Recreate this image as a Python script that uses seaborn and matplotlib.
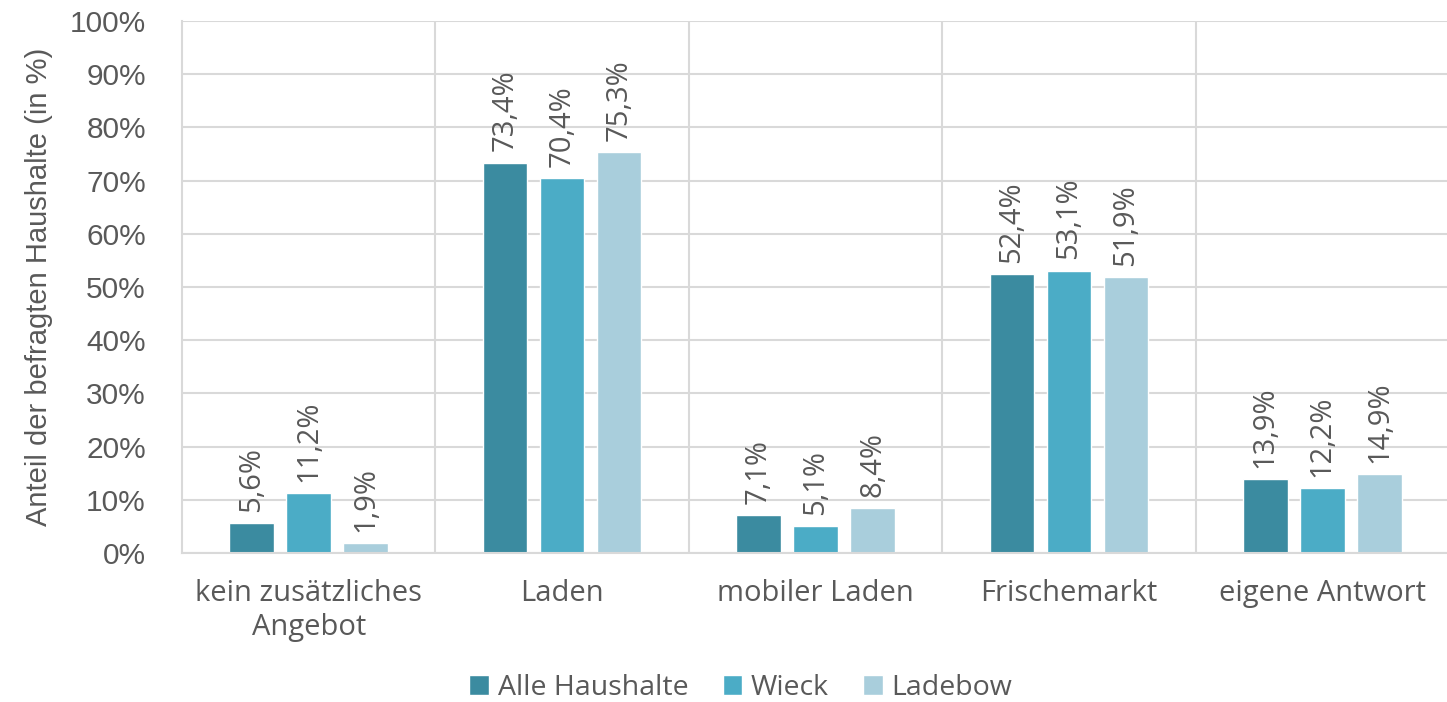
import numpy as np
import pandas as pd
import matplotlib
matplotlib.use('Agg')
import matplotlib.pyplot as plt
import seaborn as sns

kategorien = ['kein zusätzliches\nAngebot', 'Laden', 'mobiler Laden', 'Frischemarkt', 'eigene Antwort']
gruppen = ['Alle Haushalte', 'Wieck', 'Ladebow']
alle = [5.6, 73.4, 7.1, 52.4, 13.9]
wieck = [11.2, 70.4, 5.1, 53.1, 12.2]
ladebow = [1.9, 75.3, 8.4, 51.9, 14.9]
farben = ['#3B8BA0', '#4BACC6', '#A9CEDC']

df = pd.DataFrame({
    'Kategorie': kategorien * 3,
    'Gruppe': np.repeat(gruppen, len(kategorien)),
    'Wert': alle + wieck + ladebow,
})

sns.set_style('white')
plt.rcParams['font.family'] = ['Open Sans', 'DejaVu Sans']
textfarbe = '#595959'
gitter = '#D9D9D9'

fig = plt.figure(figsize=(14.47, 7.02), dpi=100)
ax = fig.add_axes([182 / 1447, 149 / 702, 1267 / 1447, 532 / 702])

sns.barplot(data=df, x='Kategorie', y='Wert', hue='Gruppe', palette=farben,
            width=0.675, gap=0.22, ax=ax, legend=True, saturation=1)

ax.set_ylim(0, 100)
ax.set_xlim(-0.5, 4.5)
ax.set_yticks(np.arange(0, 101, 10))
ax.set_yticklabels([f'{v}%' for v in range(0, 101, 10)], fontsize=21.5,
                   color=textfarbe, family='Liberation Sans')
ax.tick_params(axis='y', length=0, pad=26)
ax.tick_params(axis='x', length=0, pad=19, labelsize=21, labelcolor=textfarbe)
ax.grid(axis='y', color=gitter, linewidth=1.5)
ax.set_axisbelow(True)
for i in range(len(kategorien) - 1):
    ax.axvline(i + 0.5, color=gitter, linewidth=1.5, zorder=0)
for s in ['top', 'right']:
    ax.spines[s].set_visible(False)
for s in ['left', 'bottom']:
    ax.spines[s].set_color(gitter)
    ax.spines[s].set_linewidth(1.5)

ax.set_xlabel('')
ax.set_ylabel('Anteil der befragten Haushalte (in %)', fontsize=21, color=textfarbe,
              family='Liberation Sans', labelpad=12)

for cont, werte in zip(ax.containers, [alle, wieck, ladebow]):
    ax.bar_label(cont, labels=[f'{v:.1f}%'.replace('.', ',') for v in werte],
                 rotation=90, padding=8, fontsize=21, color=textfarbe)

handles, labels = ax.get_legend_handles_labels()
ax.legend_.remove()
fig.legend(handles, labels, loc='center', bbox_to_anchor=(0.512, 0.02), ncol=3,
           frameon=False, fontsize=20.5, handlelength=0.7, handleheight=0.7,
           handletextpad=0.3, columnspacing=1.2, labelcolor=textfarbe)

fig.savefig('out.png', dpi=100)
